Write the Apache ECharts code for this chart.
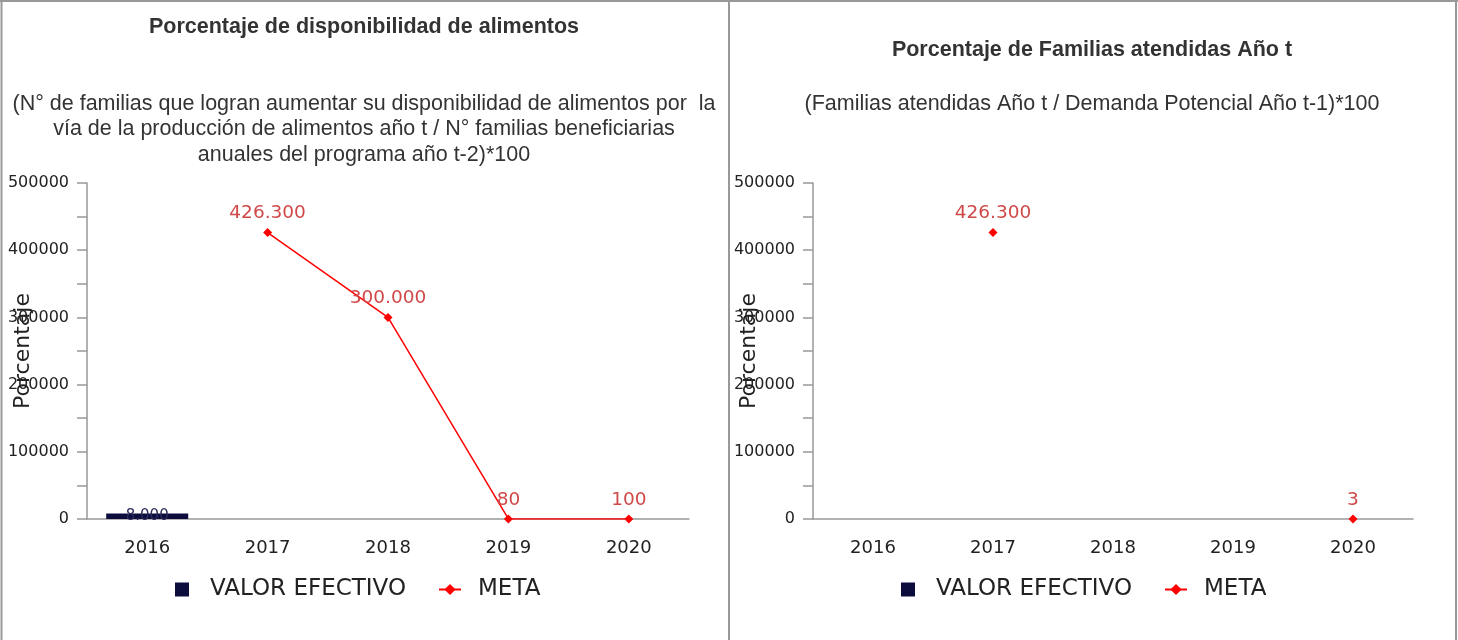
<!DOCTYPE html>
<html>
<head>
<meta charset="utf-8">
<script src="https://cdn.jsdelivr.net/npm/echarts@6/dist/echarts.min.js"></script>
<style>
html,body{margin:0;padding:0;background:#fff;}
#chart{width:1458px;height:640px;}
</style>
</head>
<body>
<div id="chart"></div>
<script>
const categories = ['2016', '2017', '2018', '2019', '2020'];
const leftValorEfectivo = [8000, null, null, null, null];
const leftMeta = [null, 426300, 300000, 80, 100];
const rightValorEfectivo = [null, null, null, null, null];
const rightMeta = [null, 426300, null, null, 3];
const yTicks = [0, 100000, 200000, 300000, 400000, 500000];
const leftTitle = 'Porcentaje de disponibilidad de alimentos';
const leftSubtitle = '(N° de familias que logran aumentar su disponibilidad de alimentos por  la\nvía de la producción de alimentos año t / N° familias beneficiarias\nanuales del programa año t-2)*100';
const rightTitle = 'Porcentaje de Familias atendidas Año t';
const rightSubtitle = '(Familias atendidas Año t / Demanda Potencial Año t-1)*100';
const seriesNames = ['VALOR EFECTIVO', 'META'];
const yAxisName = 'Porcentaje';

function fmt(v) {
  return String(v).replace(/\B(?=(\d{3})+(?!\d))/g, '.');
}

const chart = echarts.init(document.getElementById('chart'));
const chartFont = 'DejaVu Sans';
const titleFont = 'Liberation Sans';

function xAxis(gi) {
  return {
    type: 'category', gridIndex: gi, data: categories,
    axisLine: {lineStyle: {color: '#999', width: 1.5}},
    axisTick: {show: false},
    axisLabel: {fontFamily: chartFont, fontSize: 18, color: '#222', margin: 20}
  };
}
function yAxis(gi) {
  return {
    type: 'value', gridIndex: gi, min: yTicks[0], max: yTicks[yTicks.length - 1], interval: 100000,
    name: yAxisName, nameLocation: 'middle', nameGap: 53, nameRotate: 90, nameMoveOverlap: false,
    nameTextStyle: {fontFamily: chartFont, fontSize: 22, color: '#222'},
    axisLine: {show: true, lineStyle: {color: '#999', width: 1.5}},
    axisTick: {show: true, length: 10, lineStyle: {color: '#999', width: 1.5}},
    minorTick: {show: true, splitNumber: 2, length: 10, lineStyle: {color: '#999', width: 1.5}},
    splitLine: {show: false},
    axisLabel: {fontFamily: chartFont, fontSize: 16, color: '#222', margin: 18, formatter: v => String(v)}
  };
}
const metaLabel = {
  show: true, position: 'top', distance: 5,
  fontFamily: chartFont, fontSize: 18.5, color: '#d04848',
  formatter: p => fmt(p.value)
};
function legend(left) {
  return {
    left: left, top: 578, itemWidth: 22, itemHeight: 14, itemGap: 32, padding: 0,
    data: [
      {name: seriesNames[0], icon: 'path://M0,0L10,0L10,10L0,10Z', itemStyle: {color: '#0d0d3d'}},
      {name: seriesNames[1]}
    ],
    textStyle: {fontFamily: chartFont, fontSize: 23, color: '#222', padding: [0, 0, 0, 12]}
  };
}

chart.setOption({
  animation: false,
  title: [
    {text: leftTitle, left: 364, textAlign: 'center', top: 16, padding: 0,
     textStyle: {fontFamily: titleFont, fontSize: 21.5, fontWeight: 'bold', color: '#333'}},
    {text: leftSubtitle, left: 364, textAlign: 'center', top: 91, padding: 0,
     textStyle: {fontFamily: titleFont, fontSize: 21.5, fontWeight: 'normal', color: '#333', lineHeight: 25.5}},
    {text: rightTitle, left: 1092, textAlign: 'center', top: 39, padding: 0,
     textStyle: {fontFamily: titleFont, fontSize: 21.5, fontWeight: 'bold', color: '#333'}},
    {text: rightSubtitle, left: 1092, textAlign: 'center', top: 91, padding: 0,
     textStyle: {fontFamily: titleFont, fontSize: 21.5, fontWeight: 'normal', color: '#333', lineHeight: 25.5}}
  ],
  legend: [legend(175), legend(901)],
  grid: [
    {left: 87, top: 183, width: 602, height: 336, outerBoundsMode: 'none', containLabel: false},
    {left: 813, top: 183, width: 600, height: 336, outerBoundsMode: 'none', containLabel: false}
  ],
  xAxis: [xAxis(0), xAxis(1)],
  yAxis: [yAxis(0), yAxis(1)],
  graphic: [
    {type: 'line', shape: {x1: 1.5, y1: 0, x2: 1.5, y2: 640}, style: {stroke: '#999', lineWidth: 2}},
    {type: 'line', shape: {x1: 729, y1: 0, x2: 729, y2: 640}, style: {stroke: '#999', lineWidth: 2}},
    {type: 'line', shape: {x1: 1456, y1: 0, x2: 1456, y2: 640}, style: {stroke: '#999', lineWidth: 2}},
    {type: 'line', shape: {x1: 0, y1: 1, x2: 1458, y2: 1}, style: {stroke: '#999', lineWidth: 2}}
  ],
  series: [
    {name: seriesNames[0], type: 'bar', xAxisIndex: 0, yAxisIndex: 0, data: leftValorEfectivo,
     barWidth: 82, itemStyle: {color: '#0d0d3d'},
     label: {show: true, position: 'inside', fontFamily: chartFont, fontSize: 15, color: '#2a2a5a', formatter: p => fmt(p.value)}},
    {name: seriesNames[1], type: 'line', xAxisIndex: 0, yAxisIndex: 0, data: leftMeta,
     symbol: 'diamond', symbolSize: 9, itemStyle: {color: '#ff0000'}, lineStyle: {color: '#ff0000', width: 1.5},
     label: metaLabel},
    {name: seriesNames[0], type: 'bar', xAxisIndex: 1, yAxisIndex: 1, data: rightValorEfectivo,
     barWidth: 82, itemStyle: {color: '#0d0d3d'}},
    {name: seriesNames[1], type: 'line', xAxisIndex: 1, yAxisIndex: 1, data: rightMeta,
     symbol: 'diamond', symbolSize: 9, itemStyle: {color: '#ff0000'}, lineStyle: {color: '#ff0000', width: 1.5},
     label: metaLabel}
  ]
});
</script>
</body>
</html>
